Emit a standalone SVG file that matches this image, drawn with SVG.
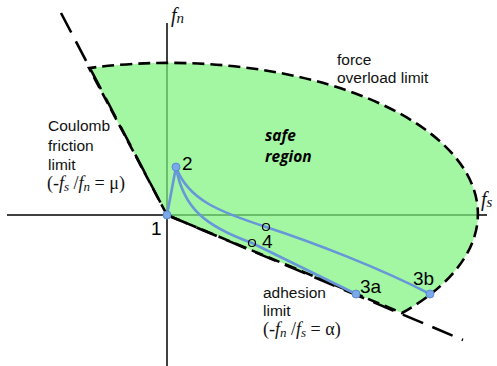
<svg xmlns="http://www.w3.org/2000/svg" width="497" height="366" viewBox="0 0 497 366">
<style>
.axis{stroke:#000;stroke-width:1.5;fill:none}
.limit{stroke:#000;stroke-width:2.6;fill:none;stroke-dasharray:22 10}
.region{fill:#7cf47c;fill-opacity:0.7;stroke:#000;stroke-width:2.6;stroke-dasharray:12 6}
.path{stroke:#6797d8;stroke-width:2.6;fill:none;stroke-linecap:round}
.dot{fill:#7aa9ea;stroke:#5b8bd0;stroke-width:1}
.ring{fill:none;stroke:#000;stroke-width:1.2}
.lbl{font-family:"Liberation Sans",Arial,sans-serif;font-size:15.5px;fill:#111}
.num{font-family:"Liberation Sans",Arial,sans-serif;font-size:19px;fill:#000}
.math{font-family:"Liberation Serif","Times New Roman",serif;font-size:18px;fill:#111}
.ax{font-family:"Liberation Serif","Times New Roman",serif;font-size:20px;fill:#111;font-style:italic}
.it{font-style:italic}
.safe{font-family:"Open Sans","Noto Sans",sans-serif;font-size:15.5px;font-weight:bold;font-style:italic;fill:#000}
</style>
<g id="axes">
<line class="axis" x1="167" y1="23" x2="167" y2="366"/>
<line class="axis" x1="7" y1="215" x2="487" y2="215"/>
</g>
<g id="safe-region">
<path class="region" d="M167,215 L89,68 A309,151 0 0 1 402,313 Z"/>
</g>
<g id="limits">
<line class="limit" x1="61" y1="13" x2="167" y2="215"/>
<line class="limit" x1="167" y1="215" x2="463" y2="340"/>
</g>
<g id="connectors">
<line class="path" x1="167" y1="215" x2="176" y2="167"/>
<path class="path" d="M176,167 C188,200 220,212 266,227 S380,268 430,294"/>
<path class="path" d="M176,167 C183,208 205,226 252,243 L356,294"/>
</g>
<g id="node-1"><circle class="dot" cx="167" cy="215" r="4"/><text class="num" x="151" y="235">1</text></g>
<g id="node-2"><circle class="dot" cx="176" cy="167" r="4"/><text class="num" x="182" y="170">2</text></g>
<g id="node-3a"><circle class="dot" cx="356" cy="294" r="4"/><text class="num" x="360" y="293">3a</text></g>
<g id="node-3b"><circle class="dot" cx="430" cy="294" r="4"/><text class="num" x="413" y="285">3b</text></g>
<g id="node-4"><circle class="ring" cx="266" cy="227" r="3.5"/><circle class="ring" cx="252" cy="243" r="3.5"/><text class="num" x="262" y="248">4</text></g>
<g id="labels">
<text class="ax" x="171" y="22">f<tspan font-size="15" dy="1">n</tspan></text>
<text class="ax" x="481" y="206">f<tspan font-size="15" dy="1">s</tspan></text>
<text class="lbl" x="48" y="131">Coulomb</text>
<text class="lbl" x="48" y="151">friction</text>
<text class="lbl" x="48" y="170">limit</text>
<text class="math" x="47" y="189">(-<tspan class="it">f</tspan><tspan class="it" font-size="13" dy="2">s</tspan><tspan dy="-2"> /</tspan><tspan class="it">f</tspan><tspan class="it" font-size="13" dy="2">n</tspan><tspan dy="-2"> = μ)</tspan></text>
<text class="lbl" x="337" y="65">force</text>
<text class="lbl" x="337" y="83">overload limit</text>
<text class="safe" x="265" y="141">safe</text>
<text class="safe" x="265" y="162">region</text>
<text class="lbl" x="263" y="298">adhesion</text>
<text class="lbl" x="263" y="316">limit</text>
<text class="math" x="263" y="335">(-<tspan class="it">f</tspan><tspan class="it" font-size="13" dy="2">n</tspan><tspan dy="-2"> /</tspan><tspan class="it">f</tspan><tspan class="it" font-size="13" dy="2">s</tspan><tspan dy="-2"> = α)</tspan></text>
</g>
</svg>
